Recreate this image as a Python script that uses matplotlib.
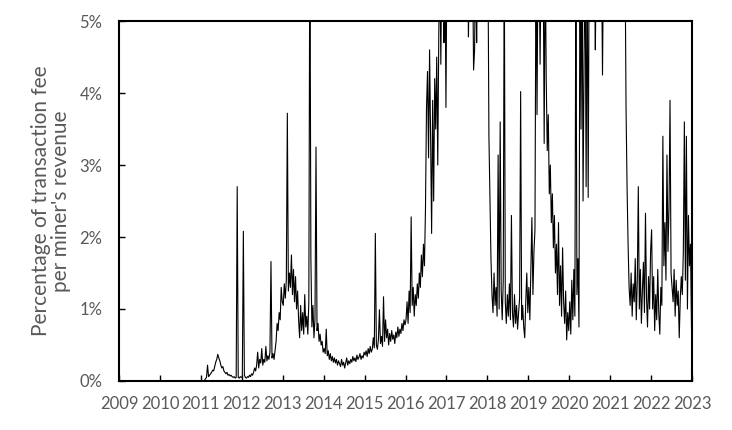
import numpy as np
import matplotlib.pyplot as plt

# transaction fee as % of miner revenue, ~40 readings per year (values > 5 run off the top)
fee_2011 = [0.0, 0.0, 0.0, 0.01, 0.03, 0.05, 0.22, 0.06, 0.08, 0.10,
            0.12, 0.15, 0.14, 0.20, 0.26, 0.30, 0.37, 0.32, 0.28, 0.22,
            0.18, 0.20, 0.14, 0.12, 0.10, 0.12, 0.08, 0.09, 0.07, 0.08,
            0.06, 0.05, 0.06, 0.04, 0.05, 2.70, 0.05, 0.04, 0.06, 0.05]
fee_2012 = [0.06, 2.08, 0.08, 0.05, 0.04, 0.06, 0.05, 0.08, 0.06, 0.10,
            0.08, 0.12, 0.18, 0.14, 0.22, 0.40, 0.18, 0.30, 0.25, 0.45,
            0.22, 0.30, 0.26, 0.48, 0.28, 0.35, 0.30, 0.40, 1.66, 0.32,
            0.38, 0.30, 0.42, 0.55, 0.80, 0.70, 0.95, 0.85, 1.30, 1.10]
fee_2013 = [1.05, 1.35, 1.15, 1.40, 3.72, 1.25, 1.50, 1.30, 1.75, 1.20,
            1.55, 1.10, 1.45, 1.00, 1.25, 0.85, 0.60, 1.05, 0.70, 0.95,
            0.65, 1.20, 0.75, 0.90, 0.65, 1.10, 6.50, 1.70, 0.75, 1.05,
            0.60, 0.85, 3.25, 0.70, 0.80, 0.55, 0.65, 0.50, 0.55, 0.40]
fee_2014 = [0.45, 0.38, 0.72, 0.35, 0.42, 0.30, 0.38, 0.28, 0.34, 0.26,
            0.32, 0.25, 0.30, 0.22, 0.28, 0.24, 0.20, 0.30, 0.22, 0.26,
            0.18, 0.25, 0.32, 0.22, 0.28, 0.24, 0.30, 0.26, 0.34, 0.28,
            0.32, 0.27, 0.36, 0.30, 0.33, 0.38, 0.30, 0.35, 0.32, 0.40]
fee_2015 = [0.36, 0.42, 0.34, 0.45, 0.38, 0.48, 0.40, 0.44, 0.60, 0.46,
            2.05, 0.50, 0.44, 0.58, 0.99, 0.52, 0.62, 0.48, 1.17, 0.55,
            0.85, 0.60, 0.72, 0.50, 0.66, 0.55, 0.70, 0.58, 0.64, 0.52,
            0.68, 0.60, 0.75, 0.62, 0.72, 0.66, 0.80, 0.70, 0.85, 0.78]
fee_2016 = [0.85, 1.10, 0.80, 1.25, 0.95, 2.28, 1.05, 1.30, 0.90, 1.20,
            1.05, 1.35, 1.15, 1.50, 1.30, 1.75, 1.45, 1.90, 1.60, 2.40,
            3.80, 4.30, 3.10, 4.60, 3.40, 2.05, 3.90, 2.50, 4.20, 3.50,
            4.50, 3.00, 4.80, 6.00, 4.40, 6.00, 6.00, 4.70, 6.00, 3.80]
fee_2017 = [6.00, 6.00, 6.00, 6.00, 6.00, 6.00, 6.00, 6.00, 6.00, 6.00,
            6.00, 6.00, 6.00, 6.00, 6.00, 6.00, 6.00, 6.00, 6.00, 6.00,
            6.00, 4.78, 6.00, 6.00, 6.00, 6.00, 4.32, 4.60, 6.00, 4.70,
            6.00, 6.00, 6.00, 6.00, 6.00, 6.00, 6.00, 6.00, 6.00, 6.00]
fee_2018 = [6.00, 3.40, 2.55, 1.70, 1.20, 0.95, 1.50, 1.05, 1.30, 0.90,
            3.14, 1.00, 3.60, 1.25, 0.85, 1.40, 6.00, 1.10, 0.80, 1.20,
            0.90, 1.35, 0.85, 2.30, 0.95, 0.75, 1.20, 0.80, 1.05, 0.72,
            0.95, 1.15, 4.02, 0.85, 1.05, 0.75, 0.60, 1.10, 1.50, 0.95]
fee_2019 = [1.30, 0.85, 1.60, 2.27, 1.20, 1.80, 2.10, 6.00, 3.70, 6.00,
            6.00, 4.40, 6.00, 6.00, 6.00, 3.30, 6.00, 4.20, 3.20, 3.70,
            2.60, 3.00, 2.20, 2.60, 1.85, 2.30, 1.50, 1.90, 1.20, 2.20,
            1.05, 1.60, 0.90, 1.85, 1.10, 0.80, 1.25, 0.57, 0.95, 0.70]
fee_2020 = [1.10, 0.65, 1.40, 0.85, 1.55, 0.90, 6.00, 1.20, 1.70, 0.75,
            6.00, 3.50, 6.00, 2.50, 4.50, 6.00, 2.70, 6.00, 2.55, 6.00,
            6.00, 6.00, 6.00, 6.00, 6.00, 4.60, 6.00, 6.00, 6.00, 6.00,
            6.00, 6.00, 4.25, 6.00, 6.00, 6.00, 6.00, 6.00, 6.00, 6.00]
fee_2021 = [6.00, 6.00, 6.00, 6.00, 6.00, 6.00, 6.00, 6.00, 6.00, 6.00,
            6.00, 6.00, 6.00, 6.00, 6.00, 3.80, 2.70, 1.90, 1.30, 1.05,
            1.50, 0.90, 1.35, 1.10, 1.70, 0.85, 1.40, 2.70, 1.00, 1.55,
            0.80, 1.25, 1.65, 0.95, 2.33, 1.15, 0.75, 1.45, 1.00, 1.80]
fee_2022 = [2.10, 1.00, 1.45, 0.70, 1.20, 0.85, 1.55, 0.95, 0.65, 1.30,
            1.05, 3.40, 1.60, 2.20, 1.40, 3.14, 1.80, 2.40, 3.90, 1.50,
            1.30, 1.10, 1.55, 0.90, 1.40, 1.05, 1.25, 0.60, 1.15, 1.45,
            1.20, 1.80, 3.60, 1.40, 3.40, 1.00, 2.30, 1.60, 1.90, 0.72]

years = list(range(2011, 2023))
series = [fee_2011, fee_2012, fee_2013, fee_2014, fee_2015, fee_2016,
          fee_2017, fee_2018, fee_2019, fee_2020, fee_2021, fee_2022]

t = []
v = []
for yr, vals in zip(years, series):
    n = len(vals)
    for i, val in enumerate(vals):
        t.append(yr + (i + 0.5) / n)
        v.append(val)

gray = "#595959"
plt.rcParams['font.family'] = ['Lato', 'DejaVu Sans']

fig = plt.figure(figsize=(7.32, 4.30), dpi=100)
ax = fig.add_axes([0.1626, 0.114, 0.7828, 0.837])

ax.plot(t, v, color="black", linewidth=0.8)

ax.set_xlim(2009, 2023)
ax.set_ylim(0, 5)
ax.set_xticks(range(2009, 2024))
ax.set_yticks(range(0, 6))
ax.set_yticklabels([f"{k}%" for k in range(0, 6)])

ax.tick_params(direction="in", length=4, width=1, color="black",
               labelcolor=gray, labelsize=12)
ax.tick_params(axis="y", pad=12)
ax.tick_params(axis="x", pad=11)

for s in ax.spines.values():
    s.set_linewidth(1.5)
    s.set_color("black")

ax.set_ylabel("Percentage of transaction fee\nper miner's revenue",
              color=gray, fontsize=15, linespacing=1.05)
ax.yaxis.set_label_coords(-0.083, 0.5)

fig.savefig("out.png", dpi=100)
plt.close(fig)
